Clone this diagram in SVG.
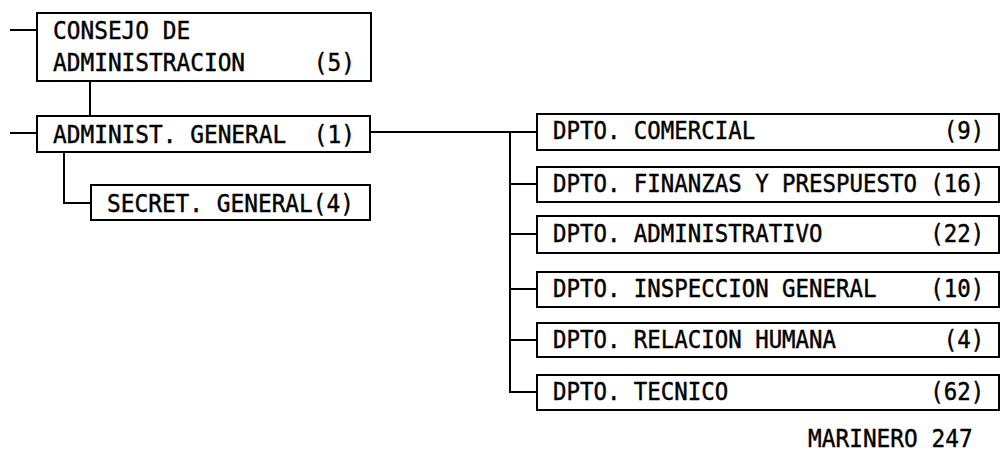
<svg xmlns="http://www.w3.org/2000/svg" width="1001" height="455" viewBox="0 0 1001 455">
<style>
.box{fill:#fff;stroke:#000;stroke-width:2}
.ln{fill:none;stroke:#000;stroke-width:2}
text{font-family:"DejaVu Sans Mono","Liberation Mono",monospace;font-size:22.8px;fill:#000;stroke:#000;stroke-width:0.4;white-space:pre}
text.d{font-size:22.4px}
</style>
<rect width="1001" height="455" fill="#fff"/>
<g id="connectors">
<path class="ln" d="M10 30H37"/>
<path class="ln" d="M90 81V116"/>
<path class="ln" d="M10 133H37"/>
<path class="ln" d="M64 152V203H91"/>
<path class="ln" d="M370 132H537"/>
<path class="ln" d="M510 132V392H537"/>
<path class="ln" d="M510 184H537M510 234H537M510 289H537M510 340H537"/>
</g>
<g id="consejo">
<rect class="box" x="37" y="13" width="334" height="68"/>
<text transform="translate(53 39) scale(1 1.08)">CONSEJO DE</text>
<text transform="translate(53 71) scale(1 1.08)">ADMINISTRACION     (5)</text>
</g>
<g id="admin-general">
<rect class="box" x="37" y="116" width="333" height="36"/>
<text transform="translate(53 143) scale(1 1.08)">ADMINIST. GENERAL  (1)</text>
</g>
<g id="secret-general">
<rect class="box" x="91" y="185" width="279" height="35"/>
<text transform="translate(107 212) scale(1 1.08)">SECRET. GENERAL(4)</text>
</g>
<g id="dpto-comercial">
<rect class="box" x="537" y="114" width="462" height="36"/>
<text class="d" transform="translate(553 139) scale(1 1.1)">DPTO. COMERCIAL              (9)</text>
</g>
<g id="dpto-finanzas">
<rect class="box" x="537" y="167" width="462" height="35"/>
<text class="d" transform="translate(553 192) scale(1 1.1)">DPTO. FINANZAS Y PRESPUESTO (16)</text>
</g>
<g id="dpto-administrativo">
<rect class="box" x="537" y="216" width="462" height="37"/>
<text class="d" transform="translate(553 242) scale(1 1.1)">DPTO. ADMINISTRATIVO        (22)</text>
</g>
<g id="dpto-inspeccion">
<rect class="box" x="537" y="272" width="462" height="35"/>
<text class="d" transform="translate(553 297) scale(1 1.1)">DPTO. INSPECCION GENERAL    (10)</text>
</g>
<g id="dpto-relacion">
<rect class="box" x="537" y="323" width="462" height="34"/>
<text class="d" transform="translate(553 348) scale(1 1.1)">DPTO. RELACION HUMANA        (4)</text>
</g>
<g id="dpto-tecnico">
<rect class="box" x="537" y="375" width="462" height="35"/>
<text class="d" transform="translate(553 400) scale(1 1.1)">DPTO. TECNICO               (62)</text>
</g>
<text transform="translate(808 447) scale(1 1.08)">MARINERO 247</text>
</svg>
